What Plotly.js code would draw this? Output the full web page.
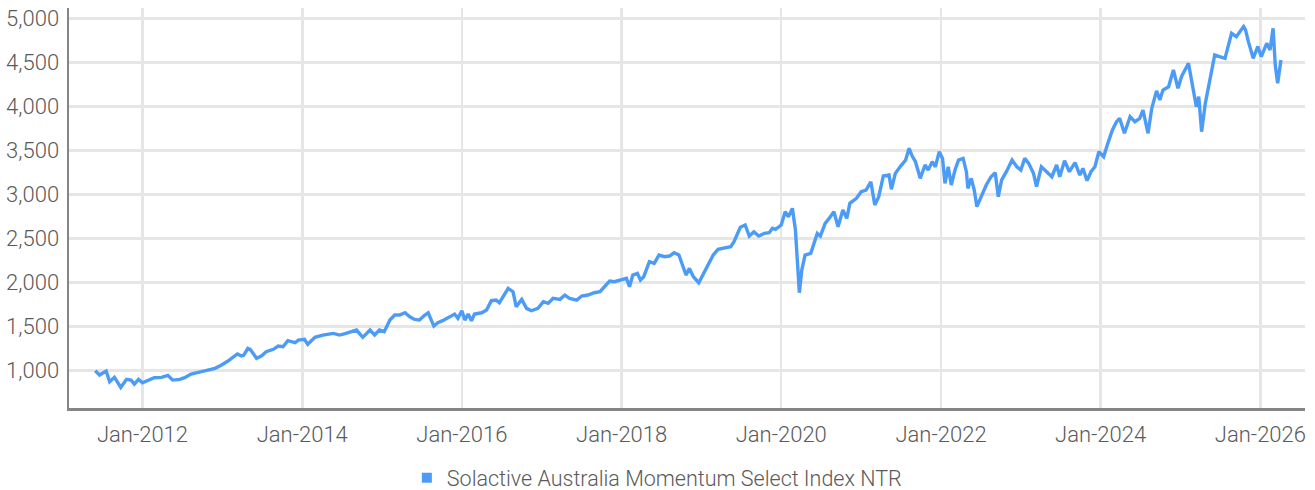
<!DOCTYPE html>
<html>
<head>
<meta charset="utf-8">
<script src="https://cdn.plot.ly/plotly-3.0.1.min.js"></script>
<style>html,body{margin:0;padding:0;background:#fff;}#chart{width:1315px;height:490px;}</style>
</head>
<body>
<div id="chart"></div>
<script>
const seriesName = 'Solactive Australia Momentum Select Index NTR';
const dates = [
'2011-05-30','2011-06-19','2011-07-19','2011-08-04','2011-08-26','2011-09-24','2011-10-20','2011-11-10','2011-11-25','2011-12-14',
'2012-01-01','2012-01-26','2012-02-24','2012-03-28','2012-04-26','2012-05-18','2012-06-20','2012-07-12','2012-08-10','2012-09-27','2012-10-26','2012-11-28','2012-12-28',
'2013-01-26','2013-03-10','2013-03-28','2013-04-08','2013-04-27','2013-05-08','2013-06-06','2013-06-28','2013-07-20','2013-08-22','2013-09-13','2013-10-05','2013-10-27','2013-11-29','2013-12-14',
'2014-01-11','2014-01-26','2014-02-28','2014-04-05','2014-05-23','2014-06-21','2014-07-20','2014-08-15','2014-09-06','2014-10-05','2014-11-07','2014-11-28','2014-12-20',
'2015-01-11','2015-02-06','2015-02-28','2015-03-22','2015-04-16','2015-05-08','2015-05-30','2015-06-21','2015-07-16','2015-07-31','2015-08-26','2015-09-13','2015-10-05','2015-11-07','2015-11-29','2015-12-14',
'2016-01-01','2016-01-15','2016-01-30','2016-02-14','2016-02-28','2016-04-01','2016-04-23','2016-05-15','2016-06-06','2016-06-21','2016-07-16','2016-07-31','2016-08-22','2016-09-06','2016-10-01','2016-10-23','2016-11-14','2016-12-14',
'2017-01-08','2017-01-30','2017-02-21','2017-03-25','2017-04-16','2017-05-08','2017-06-10','2017-07-02','2017-07-31','2017-08-29','2017-09-24','2017-10-16','2017-11-07','2017-11-29',
'2018-01-01','2018-01-23','2018-02-06','2018-02-21','2018-03-14','2018-03-28','2018-04-12','2018-05-08','2018-05-30','2018-06-21','2018-07-16','2018-08-08','2018-08-29','2018-09-20','2018-10-09','2018-10-23','2018-11-07','2018-11-25','2018-12-20',
'2019-01-08','2019-01-30','2019-02-24','2019-03-18','2019-04-05','2019-04-23','2019-05-15','2019-05-30','2019-06-14','2019-06-28','2019-07-20','2019-08-08','2019-08-29','2019-09-20','2019-10-16','2019-11-07','2019-11-22','2019-12-06',
'2020-01-01','2020-01-19','2020-02-03','2020-02-21','2020-03-06','2020-03-17','2020-03-24','2020-04-04','2020-04-19','2020-05-15','2020-05-30','2020-06-14','2020-06-28','2020-07-20','2020-08-11','2020-08-29','2020-09-17','2020-10-09','2020-10-27','2020-11-10','2020-12-10',
'2021-01-01','2021-01-23','2021-02-14','2021-03-04','2021-03-22','2021-04-12','2021-05-08','2021-05-19','2021-06-06','2021-06-28','2021-07-23','2021-08-08','2021-08-22','2021-09-06','2021-09-28','2021-10-20','2021-11-03','2021-11-22','2021-12-06','2021-12-24',
'2022-01-08','2022-01-19','2022-02-03','2022-02-17','2022-03-06','2022-03-22','2022-04-12','2022-04-27','2022-05-04','2022-05-19','2022-06-02','2022-06-14','2022-07-05','2022-07-27','2022-08-18','2022-09-06','2022-09-20','2022-10-05','2022-10-27','2022-11-22','2022-12-14',
'2023-01-01','2023-01-19','2023-02-06','2023-02-28','2023-03-14','2023-04-05','2023-04-27','2023-05-23','2023-06-14','2023-06-28','2023-07-20','2023-08-11','2023-09-06','2023-09-28','2023-10-12','2023-10-31','2023-11-18','2023-12-06','2023-12-24',
'2024-01-15','2024-02-03','2024-02-24','2024-03-14','2024-03-28','2024-04-19','2024-05-15','2024-06-06','2024-06-28','2024-07-13','2024-08-05','2024-08-22','2024-09-13','2024-09-28','2024-10-12','2024-11-07','2024-11-29','2024-12-20',
'2025-01-05','2025-02-06','2025-02-21','2025-03-14','2025-03-25','2025-04-07','2025-04-24','2025-05-15','2025-06-06','2025-06-28','2025-07-23','2025-08-22','2025-09-13','2025-10-16','2025-10-25','2025-11-07','2025-11-29','2025-12-20',
'2026-01-05','2026-01-30','2026-02-14','2026-02-28','2026-03-10','2026-03-21','2026-04-05'
];
const values = [
1000,951,997,875,925,811,902,894,849,902,
864,894,921,925,948,894,902,921,963,989,1008,1027,1065,
1110,1190,1167,1175,1254,1243,1141,1167,1216,1243,1280,1272,1341,1318,1348,
1356,1300,1379,1405,1424,1405,1424,1443,1462,1379,1462,1405,1462,
1443,1575,1632,1632,1658,1613,1583,1575,1632,1658,1507,1545,1568,1613,1643,1595,
1681,1575,1643,1568,1643,1658,1689,1795,1802,1772,1878,1935,1897,1726,1810,1708,1681,1708,
1783,1765,1822,1810,1859,1822,1802,1848,1859,1885,1897,1953,2018,2010,
2037,2049,1953,2086,2105,2029,2067,2237,2219,2313,2294,2302,2339,2313,2180,2086,2162,2067,1999,
2086,2200,2313,2378,2389,2400,2408,2464,2559,2628,2654,2529,2578,2529,2559,2566,2616,2605,
2654,2805,2748,2843,2597,2219,1885,2143,2313,2333,2446,2559,2529,2673,2741,2805,2634,2824,2730,2900,2957,
3032,3051,3145,2881,2975,3210,3221,3059,3240,3315,3391,3524,3437,3372,3184,3335,3278,3372,3315,3486,
3410,3127,3315,3108,3278,3391,3410,3259,3070,3184,3051,2862,2975,3108,3202,3247,2975,3164,3259,3391,3315,
3278,3410,3354,3240,3089,3315,3259,3202,3335,3202,3384,3259,3361,3221,3297,3157,3259,3315,3486,
3429,3581,3732,3826,3865,3695,3883,3826,3865,3959,3695,3978,4176,4073,4186,4223,4413,4205,
4337,4489,4280,3996,4110,3713,4035,4319,4583,4565,4546,4830,4791,4906,4868,4735,4546,4679,
4565,4716,4641,4887,4470,4262,4527
];
const xTickStart = '2012-01-01';
const yTickStep = 500;

const lineColor = '#4c9cf7';
const font = 'Roboto, Liberation Sans, Arial, sans-serif';
const textColor = '#5a5a5a';

const traces = [
  {x: dates, y: values, type: 'scatter', mode: 'lines', name: seriesName, showlegend: false,
   line: {color: lineColor, width: 3.4}},
  {x: [null], y: [null], type: 'scatter', mode: 'markers', name: seriesName,
   marker: {symbol: 'square', size: 10, color: lineColor}}
];

const tickFont = {family: font, size: 22, color: textColor, weight: 300};

const layout = {
  width: 1315, height: 490, autosize: false,
  margin: {l: 69, r: 10, t: 8, b: 82},
  paper_bgcolor: '#fff', plot_bgcolor: '#fff',
  font: {family: font, size: 22, color: textColor, weight: 300},
  showlegend: true,
  legend: {orientation: 'h', xref: 'container', yref: 'container', x: 0.3094, xanchor: 'left', y: 0.025, yanchor: 'middle',
           font: {family: font, size: 21.5, color: textColor, weight: 300}, itemwidth: 30},
  xaxis: {type: 'date', range: ['2011-01-30', '2026-07-24'], tick0: xTickStart, dtick: 'M24', tickformat: '%b-%Y',
          showgrid: true, gridcolor: '#e6e6e6', gridwidth: 2.5, zeroline: false,
          showline: true, linecolor: '#858585', linewidth: 2.5, ticks: '', ticklabelstandoff: 5,
          tickfont: tickFont},
  yaxis: {range: [577, 5117], tick0: 0, dtick: yTickStep, tickformat: ',d',
          showgrid: true, gridcolor: '#e6e6e6', gridwidth: 2.5, zeroline: false,
          showline: true, linecolor: '#858585', linewidth: 2.5, ticks: '', ticklabelstandoff: 3,
          tickfont: tickFont}
};

Plotly.newPlot('chart', traces, layout, {displayModeBar: false, staticPlot: true});
</script>
</body>
</html>
